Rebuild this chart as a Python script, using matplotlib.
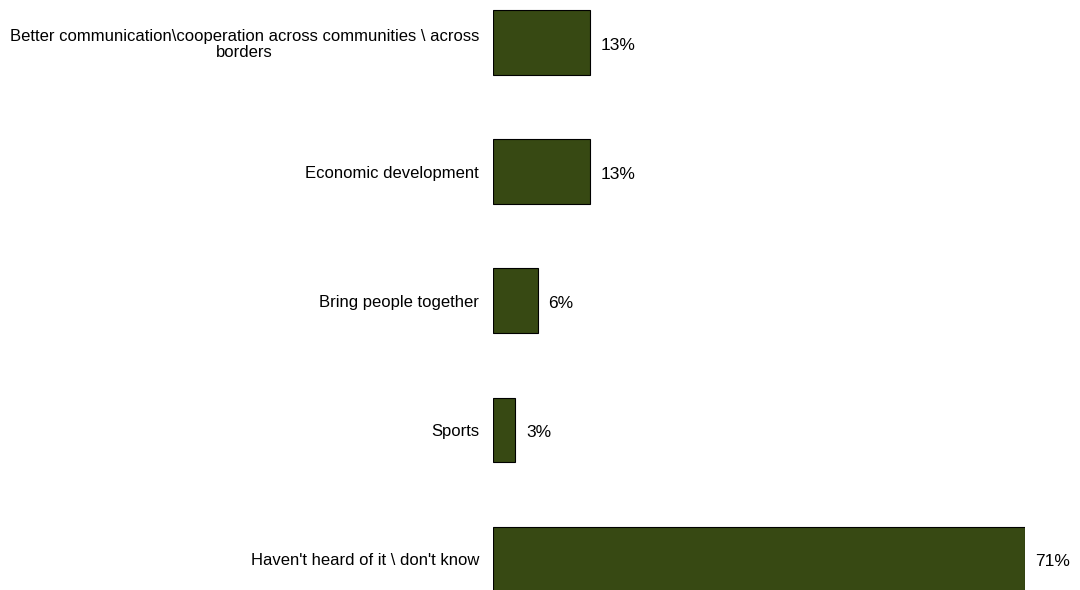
import matplotlib.pyplot as plt

labels = ["Better communication\\cooperation across communities \\ across\nborders",
          "Economic development",
          "Bring people together",
          "Sports",
          "Haven't heard of it \\ don't know"]
values = [13, 13, 6, 3, 71]

plt.rcParams['font.family'] = ['Liberation Sans', 'DejaVu Sans']

fig = plt.figure(figsize=(10.8, 5.9), dpi=100)
ax = fig.add_axes([493/1080, 0, (1025-493)/1080, 1])

pos = list(range(len(values)))
ax.barh(pos, values, height=0.5, color='#374913', edgecolor='black', linewidth=0.8)
ax.set_xlim(0, 71)
ax.set_ylim(4 + 31/129, -42.5/129)

for p, v in zip(pos, values):
    ax.annotate(f"{v}%", (v, p), xytext=(7.5, -2), textcoords='offset points',
                va='center', ha='left', fontsize=12.5)

ax.set_yticks(pos)
ax.set_yticklabels(labels, fontsize=12, ha='right')
ax.tick_params(axis='y', length=0, pad=10)
for t in ax.get_yticklabels():
    t.set_multialignment('center')
    t.set_linespacing(1.1)
ax.set_xticks([])
for s in ax.spines.values():
    s.set_visible(False)

fig.savefig('out.png', dpi=100)
